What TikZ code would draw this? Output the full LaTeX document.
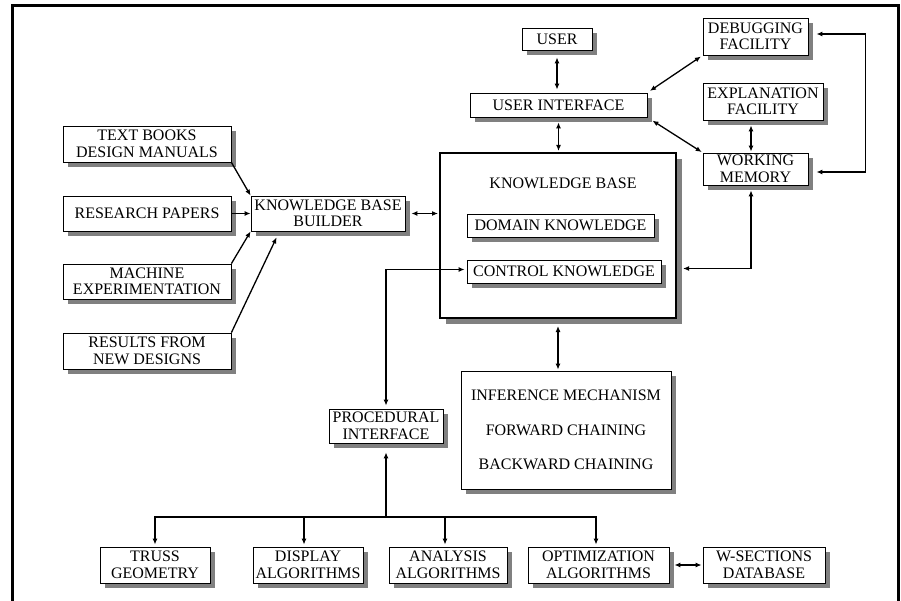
\documentclass[tikz,border=0pt]{standalone}
\usepackage{fontspec}
\setmainfont{Liberation Serif}
\usetikzlibrary{arrows.meta,shadows,calc}
\definecolor{shadowgray}{RGB}{128,128,128}
\begin{document}
\begin{tikzpicture}[x=1pt,y=-1pt,
  bx/.style={draw,line width=0.8pt,fill=white,inner sep=0pt,align=center,
    font=\fontsize{16}{16.5}\selectfont},
  box/.style={bx,drop shadow={shadow xshift=5pt,shadow yshift=-5pt,fill=shadowgray,opacity=1}},
  conn/.style={line width=1.3pt},
  tip/.style={-{Latex[length=6pt,width=5pt]}},
  dtip/.style={{Latex[length=6pt,width=5pt]}-{Latex[length=6pt,width=5pt]}},
]
\useasboundingbox (0,0) rectangle (901,601);
\fill[white] (0,0) rectangle (901,601);
% frame
\draw[line width=3pt] (12.5,601) -- (12.5,6) -- (898.5,6);
\draw[line width=2.2pt] (898.5,4.5) -- (898.5,601);

% nodes
\node[box,minimum width=70pt,minimum height=22pt] (user) at (557,39) {USER};
\node[box,minimum width=177pt,minimum height=24pt] (ui) at (558.5,105) {USER INTERFACE};
\node[box,minimum width=105pt,minimum height=37pt] (debug) at (755.5,36.5) {DEBUGGING\\FACILITY};
\node[box,minimum width=120pt,minimum height=37pt] (expl) at (763,101.5) {EXPLANATION\\FACILITY};
\node[box,minimum width=105pt,minimum height=32pt] (wm) at (755.5,169) {WORKING\\MEMORY};

\node[box,minimum width=168pt,minimum height=36pt] (tb) at (147,144) {TEXT BOOKS\\DESIGN MANUALS};
\node[box,minimum width=168pt,minimum height=35pt] (rp) at (147,213.5) {RESEARCH PAPERS};
\node[box,minimum width=168pt,minimum height=35pt] (me) at (147,281.5) {MACHINE\\EXPERIMENTATION};
\node[box,minimum width=168pt,minimum height=36pt] (rn) at (147,351) {RESULTS FROM\\NEW DESIGNS};
\node[box,minimum width=154pt,minimum height=35pt] (kbb) at (328,213.5) {KNOWLEDGE BASE\\BUILDER};

\node[bx,line width=2pt,minimum width=236pt,minimum height=165pt,
  drop shadow={shadow xshift=6pt,shadow yshift=-6pt,fill=shadowgray,opacity=1}] (kb) at (558,235.5) {};
\node[font=\fontsize{16}{16.5}\selectfont,inner sep=0pt] (kbt) at (563,183) {KNOWLEDGE BASE};
\node[box,minimum width=187pt,minimum height=23pt] (dk) at (560.5,225.5) {DOMAIN KNOWLEDGE};
\node[box,minimum width=194pt,minimum height=23pt] (ck) at (564,271.5) {CONTROL KNOWLEDGE};

\node[box,minimum width=210pt,minimum height=118pt,font=\fontsize{16}{34.5}\selectfont] (inf) at (566,430)
  {INFERENCE MECHANISM\\FORWARD CHAINING\\BACKWARD CHAINING};
\node[box,minimum width=114pt,minimum height=34pt] (proc) at (386,426) {PROCEDURAL\\INTERFACE};

\node[box,minimum width=110pt,minimum height=36pt] (truss) at (155,565) {TRUSS\\GEOMETRY};
\node[box,minimum width=110pt,minimum height=36pt] (disp) at (308,565) {DISPLAY\\ALGORITHMS};
\node[box,minimum width=118pt,minimum height=36pt] (ana) at (448,565) {ANALYSIS\\ALGORITHMS};
\node[box,minimum width=141pt,minimum height=36pt] (opt) at (598.5,565) {OPTIMIZATION\\ALGORITHMS};
\node[box,minimum width=122pt,minimum height=36pt] (ws) at (764,565) {W-SECTIONS\\DATABASE};

% connectors
\draw[conn,dtip,shorten <=7pt,shorten >=3pt] (user.south) -- (user.south |- ui.north);
\draw[conn,dtip,shorten <=5pt,shorten >=1pt] (ui.south) -- (ui.south |- kb.north);
\draw[conn,dtip,shorten <=3pt,shorten >=2pt] (ui.north east) -- (debug.south west);
\draw[conn,dtip,shorten <=6pt,shorten >=1pt] (ui.south east) -- (wm.north west);
\draw[conn,dtip,shorten <=5pt,shorten >=1pt] ([xshift=-12pt]expl.south) -- ([xshift=-4.5pt]wm.north);
\draw[conn,dtip] ([xshift=8pt,yshift=2.5pt]debug.east) -- ++(49,0) |- ([xshift=8pt,yshift=-3pt]wm.east);

\draw[conn,dtip,shorten <=6pt,shorten >=1pt] (kbb.east) -- (kbb.east -| kb.west);
\draw[conn,tip] (tb.south east) -- (kbb.north west);
\draw[conn,tip] (rp.east) -- (kbb.west);
\draw[conn,tip] (me.north east) -- (kbb.south west);
\draw[conn,tip] (rn.north east) -- ([xshift=26pt,yshift=-6pt]kbb.south west);

\draw[conn,dtip,shorten <=3pt,shorten >=2pt] (proc.north) |- ($(ck.west)+(0,-2)$);
\draw[conn,dtip,shorten <=5pt,shorten >=6pt] ([xshift=-4.5pt]wm.south) |- ($(kb.east |- ck.west)+(0,-3)$);
\draw[conn,dtip,shorten <=7pt,shorten >=1pt] (kb.south) -- (kb.south |- inf.north);

\coordinate (busy) at (0,517);
\coordinate (bus) at (proc.south |- busy);
\draw[conn,tip,shorten >=9pt] (bus) -- (proc.south);
\draw[conn,tip,shorten >=2pt] (bus) -| (truss.north);
\draw[conn,tip,shorten >=2pt] (bus) -| ([xshift=-4pt]disp.north);
\draw[conn,tip,shorten >=2pt] (bus) -| ([xshift=-3pt]ana.north);
\draw[conn,tip,shorten >=2pt] (bus) -| ([xshift=-2.5pt]opt.north);
\draw[conn,dtip,shorten <=5pt,shorten >=1pt] (opt.east) -- (ws.west);
\end{tikzpicture}
\end{document}
